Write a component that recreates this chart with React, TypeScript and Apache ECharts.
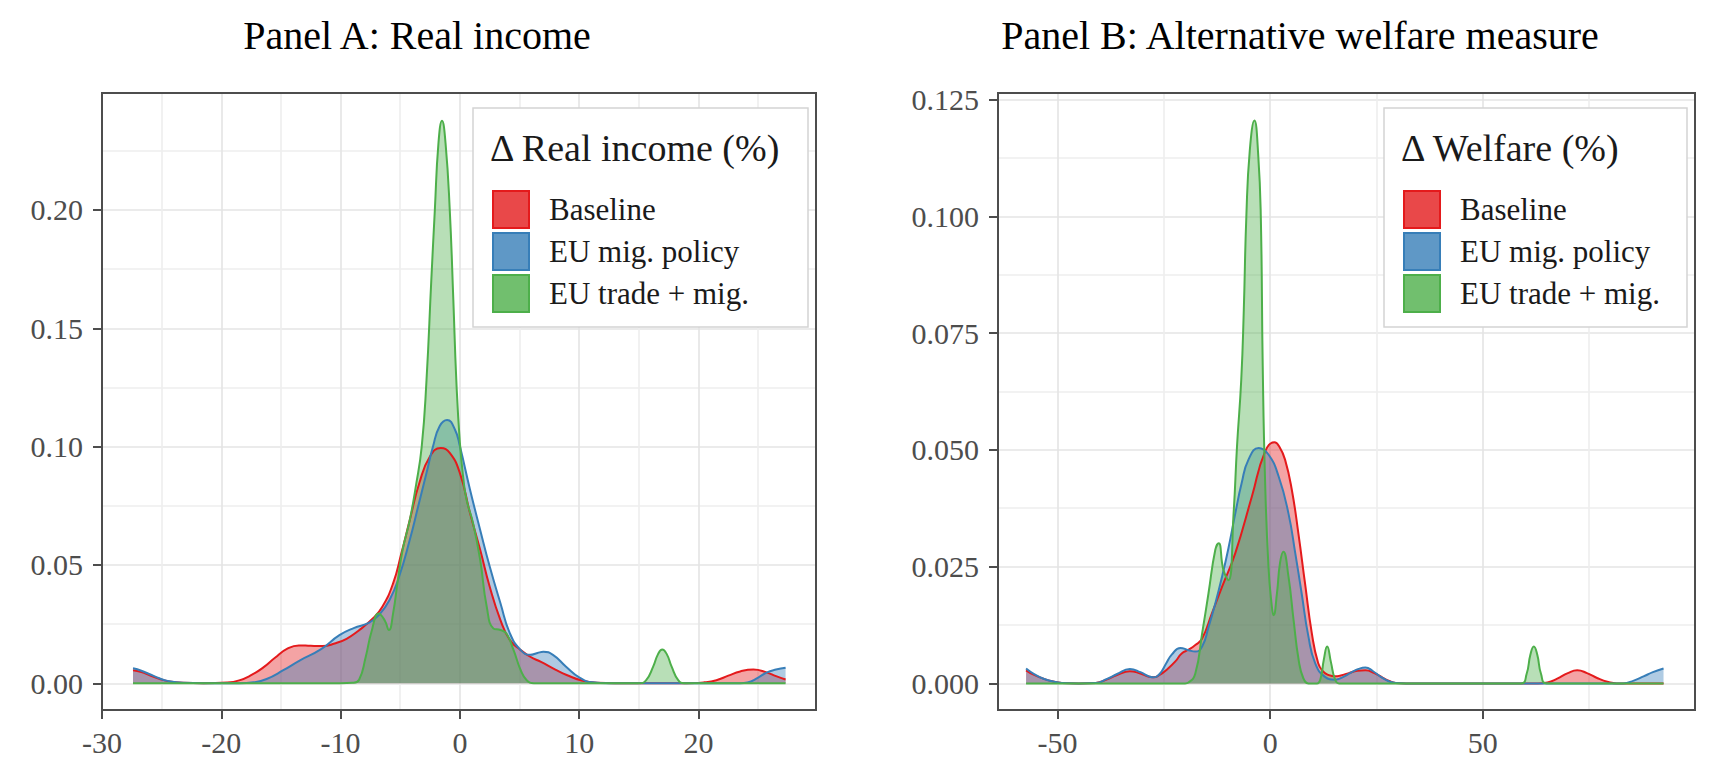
import React, { useEffect, useRef } from "react";
import * as echarts from "echarts";

// ---------- data ----------
const seriesNames = ["Baseline", "EU mig. policy", "EU trade + mig."];
const panelTitles = ["Panel A: Real income", "Panel B: Alternative welfare measure"];
const legendTitles = ["Δ Real income (%)", "Δ Welfare (%)"];
const xTicksA = [-30, -20, -10, 0, 10, 20];
const yTicksA = [0, 0.05, 0.1, 0.15, 0.2];
const xTicksB = [-50, 0, 50];
const yTicksB = [0, 0.025, 0.05, 0.075, 0.1, 0.125];
// grid lines (major + minor)
const gridXA = [-30, -25, -20, -15, -10, -5, 0, 5, 10, 15, 20, 25];
const gridYA = [0, 0.025, 0.05, 0.075, 0.1, 0.125, 0.15, 0.175, 0.2, 0.225];
const gridXB = [-50, -25, 0, 25, 50, 75];
const gridYB = [0, 0.0125, 0.025, 0.0375, 0.05, 0.0625, 0.075, 0.0875, 0.1, 0.1125, 0.125];

// Panel A: density of real income change (%)
const incomeBaseline: [number, number][] = [
  [-27.4, 0.0055], [-26.7, 0.0047], [-26, 0.0034], [-25.2, 0.0019], [-24.5, 0.0009], [-23.2, 0.0002],
  [-21.5, 0], [-19.5, 0.0003], [-18.5, 0.0012], [-17.5, 0.0034], [-16.5, 0.0066], [-15.5, 0.0108],
  [-14.5, 0.0145], [-13.5, 0.016], [-12.5, 0.0158], [-11.5, 0.0157], [-10.5, 0.0168], [-9.5, 0.0188],
  [-8.5, 0.0222], [-7.3, 0.0274], [-6.5, 0.0323], [-5.6, 0.0422], [-4.9, 0.055], [-4.2, 0.069],
  [-3.4, 0.0846], [-2.5, 0.0959], [-1.6, 0.0994], [-0.85, 0.0973], [0, 0.0888], [0.85, 0.0719],
  [1.7, 0.0564], [2.5, 0.0408], [3.4, 0.0267], [4.2, 0.0182], [5.1, 0.014], [5.9, 0.0112],
  [6.8, 0.009], [8, 0.0058], [9, 0.0034], [10.2, 0.0012], [11.5, 0.0002], [13, 0], [19, 0],
  [20.5, 0.0004], [21.5, 0.0013], [22.5, 0.0032], [23.5, 0.005], [24.6, 0.0058], [25.7, 0.0046],
  [26.5, 0.003], [27.3, 0.0016],
];
const incomeMigPolicy: [number, number][] = [
  [-27.4, 0.0063], [-26.7, 0.0053], [-26, 0.0038], [-25.2, 0.0021], [-24.5, 0.001], [-23.2, 0.0002],
  [-21.5, 0], [-18.5, 0], [-17.3, 0.0004], [-16.2, 0.0018], [-14.8, 0.0055], [-13.4, 0.0097],
  [-11.7, 0.0142], [-10.1, 0.0203], [-8.9, 0.0233], [-7.6, 0.0256], [-6.8, 0.0288], [-5.9, 0.0352],
  [-5.1, 0.045], [-4.2, 0.0606], [-3.5, 0.0747], [-2.8, 0.0888], [-2.25, 0.1001], [-1.7, 0.1086],
  [-1.07, 0.1112], [-0.4, 0.107], [0, 0.1001], [0.85, 0.0818], [1.7, 0.0648], [2.5, 0.0493],
  [3.4, 0.0338], [4.2, 0.021], [5.1, 0.014], [5.9, 0.012], [6.5, 0.0128], [7, 0.0133], [7.8, 0.012],
  [8.9, 0.007], [10, 0.0025], [11.1, 0.0004], [12.5, 0], [23.5, 0], [24.1, 0.0003], [25, 0.0024],
  [25.7, 0.0045], [26.5, 0.0058], [27.3, 0.0066],
];
const incomeTradeMig: [number, number][] = [
  [-27.4, 0], [-20, 0], [-10, 0], [-9, 0.0002], [-8.45, 0.0015], [-7.9, 0.011], [-7.4, 0.022],
  [-6.8, 0.0295], [-6.3, 0.0265], [-5.95, 0.0225], [-5.6, 0.0295], [-5.2, 0.0436], [-4.8, 0.0564],
  [-4.2, 0.069], [-3.7, 0.083], [-3.2, 0.1], [-2.8, 0.128], [-2.4, 0.17], [-2.1, 0.2], [-1.8, 0.228],
  [-1.5, 0.2377], [-1.2, 0.228], [-0.85, 0.2], [-0.55, 0.162], [-0.3, 0.128], [0, 0.1016],
  [0.3, 0.086], [0.56, 0.0775], [1.1, 0.0677], [1.7, 0.0521], [2.25, 0.0323], [2.8, 0.0232],
  [3.4, 0.0225], [3.9, 0.021], [4.5, 0.014], [5.1, 0.0055], [5.6, 0.0013], [6.2, 0], [15, 0],
  [15.6, 0.0012], [16.2, 0.007], [16.6, 0.0122], [16.96, 0.0143], [17.35, 0.0122], [17.75, 0.007],
  [18.3, 0.0013], [18.8, 0], [27.3, 0],
];

// Panel B: density of welfare change (%)
const welfareBaseline: [number, number][] = [
  [-57.4, 0.0028], [-55.5, 0.0018], [-53.3, 0.001], [-51, 0.0004], [-49, 0.0001], [-45, 0],
  [-41, 0.0001], [-38.5, 0.0008], [-36, 0.0018], [-33, 0.0026], [-30.5, 0.0021], [-28.5, 0.0014],
  [-27.5, 0.0013], [-26, 0.0018], [-24, 0.0032], [-22.3, 0.0047], [-20.8, 0.0064], [-19.2, 0.0072],
  [-17.6, 0.0082], [-16, 0.0096], [-13.7, 0.015], [-11.3, 0.0207], [-8.2, 0.0279], [-4.3, 0.04],
  [-1.2, 0.0496], [1, 0.0516], [2.2, 0.0506], [3.5, 0.0479], [5.1, 0.0414], [6.65, 0.032],
  [8.2, 0.0214], [9.8, 0.0107], [11.3, 0.0043], [12.5, 0.0025], [13.7, 0.0018], [15.3, 0.0015],
  [16.6, 0.0017], [18.5, 0.0022], [20.5, 0.0027], [22.4, 0.0028], [24.5, 0.0022], [26.5, 0.0012],
  [28, 0.0005], [29.5, 0.0001], [32, 0], [63, 0], [65.2, 0.0002], [67.5, 0.001], [70, 0.0022],
  [72.2, 0.0028], [74.5, 0.0022], [77, 0.0011], [79.5, 0.0003], [81.5, 0], [92.5, 0],
];
const welfareMigPolicy: [number, number][] = [
  [-57.4, 0.0032], [-55.5, 0.002], [-53.3, 0.001], [-51, 0.0004], [-49, 0.0001], [-45, 0],
  [-41, 0.0001], [-38.5, 0.0009], [-36, 0.002], [-33, 0.0031], [-30.5, 0.0024], [-28.5, 0.0015],
  [-27.5, 0.0013], [-26, 0.002], [-24.5, 0.0042], [-23.1, 0.0062], [-21.1, 0.0076], [-19.2, 0.0071],
  [-17.6, 0.0068], [-16, 0.0079], [-14.5, 0.012], [-12.9, 0.0171], [-11.3, 0.0229], [-9.8, 0.029],
  [-8.2, 0.0364], [-6.7, 0.0429], [-5.1, 0.0479], [-2.7, 0.0504], [-0.4, 0.049], [2, 0.0443],
  [4.3, 0.0364], [5.9, 0.0279], [7.4, 0.0193], [9, 0.01], [10.6, 0.0043], [12.9, 0.0014],
  [15.3, 0.0008], [17, 0.0013], [19, 0.0023], [20.8, 0.0031], [22.4, 0.0034], [24.2, 0.0026],
  [26, 0.0014], [28, 0.0004], [29.5, 0.0001], [32, 0], [83, 0], [85.5, 0.0006], [87.8, 0.0015],
  [90, 0.0024], [92.5, 0.0032],
];
const welfareTradeMig: [number, number][] = [
  [-57.4, 0], [-20, 0], [-19.2, 0.0002], [-17.6, 0.0021], [-16, 0.0107], [-14.5, 0.0193],
  [-12.9, 0.0286], [-12.1, 0.03], [-11, 0.0243], [-9.8, 0.0221], [-8.6, 0.0364], [-7.8, 0.0507],
  [-6.8, 0.065], [-6.2, 0.08], [-5.6, 0.1], [-4.8, 0.114], [-3.7, 0.1205], [-2.8, 0.113],
  [-2.2, 0.1], [-1.75, 0.068], [-1.2, 0.0436], [-0.4, 0.025], [0.4, 0.0164], [0.8, 0.0146],
  [1.6, 0.0193], [2.3, 0.0257], [3.1, 0.0282], [4.3, 0.0229], [5.5, 0.0136], [6.7, 0.005],
  [7.8, 0.0011], [9, 0], [11, 0], [11.9, 0.0012], [12.6, 0.005], [13.4, 0.0079], [14.3, 0.0045],
  [15.2, 0.001], [16.2, 0], [59, 0], [60.3, 0.002], [61.2, 0.0062], [62, 0.0079], [62.8, 0.0062],
  [63.7, 0.002], [65, 0], [92.5, 0],
];

const panelData = [
  [incomeBaseline, incomeMigPolicy, incomeTradeMig],
  [welfareBaseline, welfareMigPolicy, welfareTradeMig],
];

// ---------- style ----------
const FONT = '"Liberation Serif", "Times New Roman", serif';
const COLORS = ["#E41A1C", "#377EB8", "#4DAF4A"];
const KEY_FILL = ["rgba(228,26,28,0.8)", "rgba(55,126,184,0.8)", "rgba(77,175,74,0.8)"];
const AXIS = "#4d4d4d";
const MAJOR = "#e4e4e4";
const MINOR = "#eeeeee";
const NONE = "rgba(0,0,0,0)";

const GRIDS = [
  { left: 102, top: 93, width: 714, height: 617 },
  { left: 998, top: 93, width: 697, height: 617 },
];
const RANGES = [
  { xMin: -30, xMax: 29.85, yMin: -0.0113, yMax: 0.2494 },
  { xMin: -64, xMax: 99.9, yMin: -0.0057, yMax: 0.1264 },
];
const LEGEND_BOX = [
  { x: 473, y: 108, width: 335, height: 219 },
  { x: 1384, y: 108, width: 303, height: 219 },
];
const TITLE_X = [417, 1300];

function buildOption() {
  const tickStyle = { show: true, length: 9, lineStyle: { color: AXIS, width: 2 } };
  const labelStyle = { fontFamily: FONT, fontSize: 30, color: AXIS };
  const axisLine = { show: true, onZero: false, lineStyle: { color: AXIS, width: 2 } };
  const xTicks = [xTicksA, xTicksB];
  const yTicks = [yTicksA, yTicksB];
  const gridX = [gridXA, gridXB];
  const gridY = [gridYA, gridYB];
  const yFmt = [2, 3];

  const xAxis: any[] = [];
  const yAxis: any[] = [];
  // main axes (ticks + labels)
  [0, 1].forEach((gi) => {
    const r = RANGES[gi];
    xAxis.push({
      type: "value", gridIndex: gi, position: "bottom", min: r.xMin, max: r.xMax,
      axisLine, axisTick: { ...tickStyle, customValues: xTicks[gi] },
      axisLabel: { ...labelStyle, margin: 17, customValues: xTicks[gi], formatter: (v: number) => String(v) },
      splitLine: { show: false },
    });
    yAxis.push({
      type: "value", gridIndex: gi, position: "left", min: r.yMin, max: r.yMax,
      axisLine, axisTick: { ...tickStyle, customValues: yTicks[gi] },
      axisLabel: {
        ...labelStyle, margin: 19, customValues: yTicks[gi],
        formatter: (v: number) => v.toFixed(yFmt[gi]),
      },
      splitLine: { show: false },
    });
  });
  // hidden helper axes drawing major/minor grid lines
  [0, 1].forEach((gi) => {
    const r = RANGES[gi];
    xAxis.push({
      type: "value", gridIndex: gi, position: "top", min: r.xMin, max: r.xMax,
      axisLine: { show: false }, axisLabel: { show: false },
      axisTick: { show: false, customValues: gridX[gi] },
      splitLine: {
        show: true,
        lineStyle: { width: 1.6, color: gridX[gi].map((v) => (xTicks[gi].includes(v) ? MAJOR : MINOR)) },
      },
    });
    yAxis.push({
      type: "value", gridIndex: gi, position: "right", min: r.yMin, max: r.yMax,
      axisLine: { show: false }, axisLabel: { show: false },
      axisTick: { show: false, customValues: gridY[gi] },
      splitLine: {
        show: true,
        lineStyle: { width: 1.6, color: gridY[gi].map((v) => (yTicks[gi].includes(v) ? MAJOR : MINOR)) },
      },
    });
  });

  const series: any[] = [];
  panelData.forEach((group, gi) => {
    group.forEach((data, k) => {
      series.push({
        type: "line", name: seriesNames[k], data, xAxisIndex: gi, yAxisIndex: gi,
        smooth: 0.5, symbol: "none", showSymbol: false, silent: true,
        lineStyle: { color: COLORS[k], width: 2 },
        itemStyle: { color: COLORS[k] },
        areaStyle: { color: COLORS[k], opacity: 0.4, origin: "auto" },
        emphasis: { disabled: true },
        z: 2,
      });
    });
  });

  const legend = LEGEND_BOX.map((b) => ({
    left: b.x + 19, top: b.y + 82, orient: "vertical", itemWidth: 36, itemHeight: 37, itemGap: 3,
    padding: 0, icon: "rect", selectedMode: false, z: 11,
    data: seriesNames.map((n, k) => ({
      name: n, itemStyle: { color: KEY_FILL[k], borderColor: COLORS[k], borderWidth: 2 },
    })),
    textStyle: { fontFamily: FONT, fontSize: 31, color: "#1a1a1a", padding: [0, 0, 0, 15] },
  }));

  const graphic: any[] = [];
  GRIDS.forEach((g) => {
    graphic.push({
      type: "rect", z: 9, silent: true,
      shape: { x: g.left, y: g.top, width: g.width, height: g.height },
      style: { fill: NONE, stroke: AXIS, lineWidth: 2 },
    });
  });
  LEGEND_BOX.forEach((b, i) => {
    graphic.push({
      type: "rect", z: 10, silent: true,
      shape: { x: b.x, y: b.y, width: b.width, height: b.height },
      style: { fill: "#ffffff", stroke: "#d4d4d4", lineWidth: 1.5 },
    });
    graphic.push({
      type: "text", z: 12, silent: true, x: b.x + 17, y: b.y + 40,
      style: {
        text: legendTitles[i], font: `38px ${FONT}`, fill: "#1a1a1a",
        textAlign: "left", align: "left", textVerticalAlign: "middle", verticalAlign: "middle",
      },
    });
  });
  panelTitles.forEach((t, i) => {
    graphic.push({
      type: "text", z: 12, silent: true, x: TITLE_X[i], y: 35,
      style: {
        text: t, font: `40px ${FONT}`, fill: "#000000",
        textAlign: "center", align: "center", textVerticalAlign: "middle", verticalAlign: "middle",
      },
    });
  });

  return {
    animation: false,
    backgroundColor: "#ffffff",
    grid: GRIDS.map((g) => ({ ...g, show: false, containLabel: false, outerBoundsMode: "none" })),
    xAxis,
    yAxis,
    series,
    legend,
    graphic,
  };
}

export default function App() {
  const ref = useRef<HTMLDivElement>(null);
  useEffect(() => {
    if (!ref.current) return;
    const chart = echarts.init(ref.current, undefined, { renderer: "svg" });
    chart.setOption(buildOption() as any);
    return () => chart.dispose();
  }, []);
  return (
    <div
      ref={ref}
      style={{ position: "absolute", left: 0, top: 0, width: 1726, height: 772, background: "#fff" }}
    />
  );
}
